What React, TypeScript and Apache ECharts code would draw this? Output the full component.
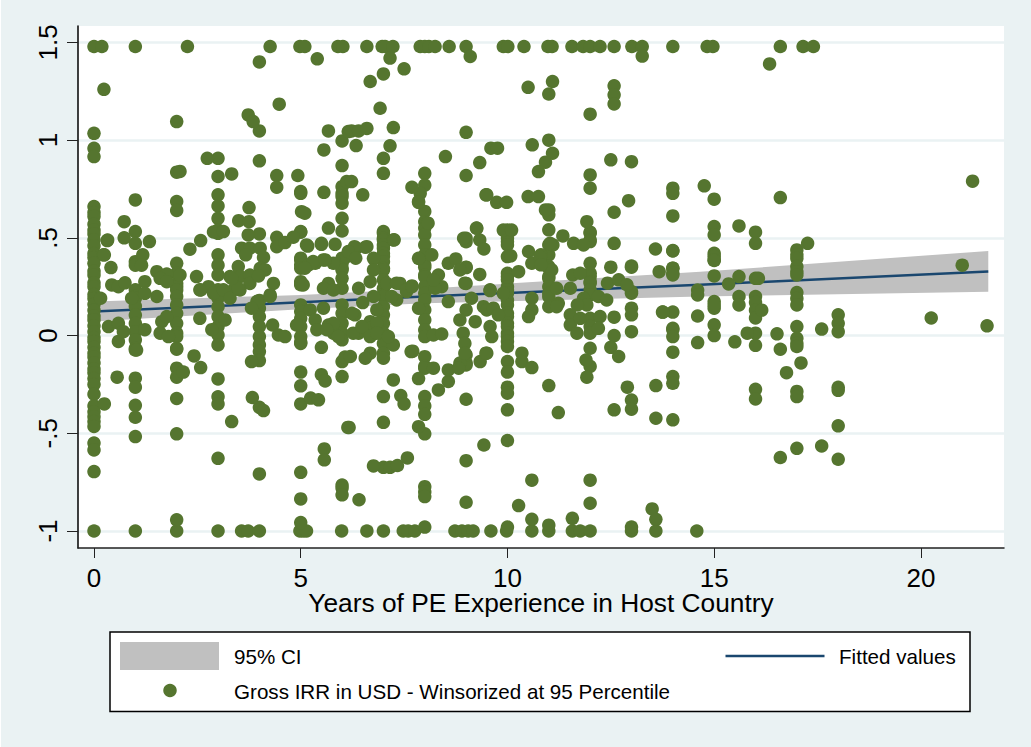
import React, { useEffect, useRef } from "react";
import * as echarts from "echarts";

const xTicks = [0, 5, 10, 15, 20];
const yTicks = [-1, -0.5, 0, 0.5, 1, 1.5];
const yTickLabels = ["-1", "-.5", "0", ".5", "1", "1.5"];

const fitX = [0, 5, 8, 14.66, 21.63];
const fitY = [0.123, 0.17, 0.2, 0.26, 0.3275];
const ciUpper = [0.174, 0.208, 0.24, 0.326, 0.433];
const ciLower = [0.072, 0.135, 0.165, 0.2, 0.224];

const capHighX = [0,0.19,1,2.26,4.26,4.98,5.1,5.9,6.02,6.6,6.97,7.04,7.23,7.89,8,8.1,8.25,8.59,9,9.9,10.01,10.4,10.98,11.08,11.56,11.83,12,12.24,12.58,13.01,13.26,14,14.83,14.97,16.6,17.15,17.4];
const capLowX = [0,1,2,3,3.57,3.73,4,4.98,5.06,5.14,5.99,6.6,7,7.48,7.6,7.76,8.73,8.9,9.05,9.17,9.6,9.98,10.59,11,11.57,11.76,12,13,13.59,14.58];

const col0 = [1.035,0.958,0.916,0.66,0.63,0.61,0.57,0.54,0.52,0.49,0.46,0.42,0.4,0.37,0.33,0.31,0.27,0.25,0.21,0.19,0.16,0.13,0.1,0.08,0.05,0.02,-0.01,-0.03,-0.06,-0.09,-0.11,-0.14,-0.17,-0.19,-0.22,-0.25,-0.3,-0.36,-0.39,-0.415,-0.44,-0.465,-0.55,-0.585,-0.696];
const col1 = [0.694,0.532,0.472,0.378,0.36,0.234,0.2,0.191,0.15,0.105,0.063,0.02,-0.022,-0.065,-0.074,-0.218,-0.264,-0.357,-0.418,-0.517];
const col2 = [1.095,0.836,0.686,0.64,0.37,0.319,0.267,0.25,0.233,0.2,0.157,0.114,0.063,0.012,-0.005,-0.065,-0.07,-0.167,-0.213,-0.322,-0.503,-0.943];
const col3 = [0.907,0.814,0.72,0.663,0.6,0.54,0.523,0.413,0.36,0.31,0.234,0.191,0.148,0.097,0.046,0.003,-0.048,-0.222,-0.313,-0.35,-0.628];
const col4 = [1.4,1.047,0.894,0.52,0.18,0.14,0.097,0.046,-0.005,-0.048,-0.082,-0.128,-0.367,-0.708];
const col5 = [0.737,0.728,0.532,0.529,0.396,0.387,0.362,0.345,0.276,0.267,0.26,0.157,0.123,0.088,0.046,-0.005,-0.04,-0.034,-0.187,-0.257,-0.35,-0.7,-0.836,-0.957];
const col6 = [0.996,0.87,0.762,0.728,0.711,0.677,0.6,0.535,0.396,0.37,0.345,0.336,0.293,0.242,0.157,0.114,0.063,0.012,-0.022,-0.133,-0.21,-0.765,-0.78,-0.815];
const col7 = [1.339,0.907,0.83,0.532,0.523,0.498,0.489,0.464,0.447,0.421,0.404,0.378,0.344,0.336,0.285,0.242,0.208,0.2,0.148,0.106,0.063,0.012,-0.04,-0.09,-0.116,-0.312,-0.444,-0.674];
const col8 = [0.83,0.77,0.635,0.583,0.55,0.515,0.464,0.413,0.362,0.35,0.31,0.3,0.25,0.216,0.182,0.131,0.08,0.029,-0.005,-0.108,-0.158,-0.167,-0.312,-0.36,-0.403,-0.503,-0.773,-0.8,-0.824,-0.98];
const col9 = [1.04,0.819,0.498,0.48,0.35,0.348,0.267,0.131,-0.15,-0.14,-0.099,-0.326,-0.64,-0.853];
const col10 = [0.54,0.498,0.481,0.464,0.404,0.319,0.302,0.285,0.25,0.233,0.217,0.182,0.157,0.114,0.097,0.063,0.046,0.012,-0.005,-0.03,-0.056,-0.133,-0.187,-0.264,-0.295,-0.38,-0.537,-0.98];
const col11 = [1.236,1.0,0.643,0.618,0.541,0.464,0.413,0.353,0.345,0.302,0.293,0.25,0.216,0.199,0.148,-0.256,-0.97];
const col12 = [1.133,0.822,0.754,0.529,0.524,0.49,0.481,0.37,0.319,0.302,0.276,0.268,0.234,0.208,0.088,0.046,0.012,-0.065,-0.158,-0.74,-0.858];
const col13 = [0.89,0.356,0.35,0.225,0.217,0.14,0.106,0.02,-0.33,-0.377,-0.98];
const col14 = [0.754,0.728,0.612,0.435,0.433,0.345,0.344,0.319,0.31,0.12,0.037,0.03,-0.005,-0.085,-0.21,-0.244,-0.431];
const col15 = [0.698,0.558,0.515,0.421,0.404,0.387,0.384,0.305,0.174,0.14,0.157,0.055,0];
const col16 = [0.529,0.472,0.293,0.2,0.17,0.13,0.09,0.012,-0.05,-0.275,-0.324];
const col17 = [0.438,0.413,0.395,0.353,0.327,0.31,0.22,0.19,0.157,0.046,-0.014,-0.04,-0.056,-0.286,-0.312,-0.577];
const col18 = [0.106,0.063,0.02,-0.265,-0.28,-0.462,-0.633];

const offA: number[][] = [[0.24,1.26],[0.16,0.191],[0.23,0.413],[0.32,0.486],[0.41,0.348],[0.33,0.489],[0.25,0.413],[0.73,0.583],[0.73,0.5],[1.34,0.481],[1.18,0.413],[1.15,0.36],[0.43,0.259],[0.59,0.25],[0.75,0.27],[0.35,0.046],[0.59,0.063],[0.59,-0.03],[0.71,0.02],[0.91,0.191],[1.03,-0.074],[1.23,0.03],[0.56,-0.213],[0.25,-0.35],[1.52,0.327],[1.76,0.315],[1.23,0.276],[1.6,0.293],[1.76,0.276],[2.08,0.31],[2.08,0.84],[1.64,0.071],[1.6,0.012],[1.76,0.097],[1.52,0.2],[1.23,0.216],[1.8,-0.005],[2.16,-0.187],[2.42,-0.104],[2.58,-0.164]];
const offB: number[][] = [[2.32,0.442],[2.58,0.486],[2.48,0.302],[2.58,0.233],[2.77,0.25],[2.89,0.53],[3.13,0.532],[2.74,0.907],[3.33,0.827],[3.5,0.588],[3.75,0.583],[3.75,0.655],[3.73,1.129],[3.85,1.095],[4.48,1.184],[3.73,0.515],[3.57,0.447],[3.77,0.447],[4.02,0.447],[3.67,0.413],[4.1,0.4],[3.49,0.353],[4.02,0.344],[4.14,0.336],[3.29,0.302],[3.53,0.302],[3.77,0.31],[3.77,0.267],[3.98,0.305],[4.34,0.267],[4.26,0.208],[3.37,0.233],[3.53,0.233],[3.94,0.174],[2.56,0.234],[2.56,0.088],[2.85,0.03],[3.17,0.08],[2.89,0.217],[3.13,0.234],[3.29,0.191],[3.49,0.242],[3.33,0.293],[3.81,0.14],[4.26,0.2],[4.32,0.054],[4.46,0.003],[4.62,-0.005],[4.9,0.054],[3.33,-0.44],[3.83,-0.317],[4.1,-0.384],[3.81,-0.133]];
const offC: number[][] = [[4.42,0.819],[4.42,0.759],[4.93,0.819],[5.02,0.634],[5.1,0.626],[4.42,0.503],[4.42,0.455],[4.62,0.476],[4.82,0.503],[5.17,0.458],[5.5,0.467],[5.83,0.467],[5.19,0.362],[5.35,0.37],[5.55,0.387],[5.79,0.37],[5.06,0.259],[5.67,0.267],[5.55,0.242],[5.79,0.233],[5.56,0.733],[5.56,0.95],[5.67,1.047],[5.4,1.416],[5.67,0.55],[5.23,0.131],[5.55,0.14],[5.35,0.08],[5.39,0.03],[5.67,0.054],[5.79,0.012],[5.5,-0.06],[5.24,-0.32],[5.43,-0.329],[5.5,-0.2],[5.59,-0.232],[5.57,-0.58],[5.57,-0.636],[5.3,0.379],[5.59,0.387],[5.1,0.345],[5.14,0.464],[5.5,0.472],[5.79,0.063],[5.63,0.03],[5.91,-0.005]];
const offD: number[][] = [[6.15,1.044],[6.11,0.788],[6.23,1.047],[6.4,1.047],[6.6,1.06],[6.34,0.972],[6.23,0.788],[6.5,0.72],[6.34,0.447],[6.56,0.452],[6.11,0.404],[6.76,0.395],[6.76,0.336],[6.68,0.276],[6.4,0.242],[6.5,0.169],[6.31,0.106],[6.68,0.071],[6.68,0.037],[6.4,0.012],[6.84,0.063],[6.76,0.2],[6.6,0.455],[6.3,0.455],[6.15,0.43],[6.33,0.396],[6.07,-0.11],[6.2,-0.107],[6.68,-0.09],[6.56,-0.116],[6.14,-0.47],[6.17,-0.47],[6.41,-0.84],[6.76,-0.667],[6.68,1.3],[6.92,1.163],[7.16,1.42],[7.5,1.365],[7.24,1.064],[7.16,0.971],[6.27,0.012],[6.48,0.046],[6.68,-0.005],[6.84,0.012],[6.24,0.114],[6.84,0.131]];
const offE: number[][] = [[7.24,0.489],[7.08,0.267],[7.4,0.267],[7.69,0.254],[7.56,0.225],[7.85,0.395],[7.26,0.49],[7.32,0.268],[7.56,0.234],[7.69,0.25],[7.32,0.182],[7.2,0.2],[7.85,0.14],[7.24,-0.048],[7.67,-0.082],[7.71,-0.08],[7.85,-0.22],[7.24,-0.227],[7.42,-0.307],[7.5,-0.35],[7.85,-0.466],[7.16,-0.674],[7.34,-0.665],[7.58,-0.626],[7.85,0.686],[7.89,0.728],[7.69,0.759],[7.85,0.682],[8.08,0.575],[8.17,0.413],[8.33,0.31],[8.41,0.25],[8.25,0.242],[8.21,0.003],[8.41,0.008],[8.21,-0.167],[8.33,-0.278],[8.57,-0.235],[7.12,-0.005],[8.21,0.285]];
const offF: number[][] = [[8.5,0.916],[8.57,0.37],[8.75,0.392],[8.85,0.336],[8.97,0.268],[8.94,0.498],[8.93,0.012],[8.97,-0.04],[8.57,0.174],[8.85,0.08],[9.13,0.191],[9.22,0.071],[8.57,-0.176],[8.85,-0.141],[8.82,-0.167],[8.97,-0.09],[9.1,1.428],[9.6,0.959],[9.76,0.959],[9.33,0.885],[9.48,0.72],[9.74,0.682],[9.98,0.682],[9.26,0.549],[9.33,0.489],[9.43,0.443],[9.33,0.313],[9.58,0.23],[9.9,0.216],[9.9,0.54],[9.42,0.148],[9.5,0.131],[9.66,0.14],[9.58,0.234],[9.78,0.106],[9.58,0.046],[9.62,-0.005],[9.34,-0.133],[9.5,-0.09],[9.48,-0.09],[9.43,-0.56],[9.5,0.72],[9.25,0.55]];
const offG: number[][] = [[10.5,1.27],[11.09,1.3],[10.6,0.976],[11.09,0.933],[10.92,0.887],[10.75,0.839],[10.5,0.711],[10.75,0.711],[10.92,0.643],[10.1,0.54],[10.08,0.408],[10.27,0.327],[10.51,0.43],[10.59,0.37],[10.81,0.413],[11.1,0.464],[11.34,0.51],[10.79,0.404],[11.03,0.472],[11.07,0.336],[10.81,0.362],[11.19,0.242],[10.59,0.191],[10.59,0.131],[10.51,0.097],[11.23,0.165],[11.19,0.148],[10.35,-0.09],[10.35,-0.133],[10.59,-0.164],[11.23,-0.394],[10.27,-0.87],[10.59,-0.74],[11.57,-0.935],[10.59,-0.94]];
const offH: number[][] = [[11.92,0.583],[11.6,0.472],[11.84,0.464],[11.52,0.242],[11.58,0.31],[11.76,0.319],[11.84,0.191],[11.92,0.157],[11.69,0.157],[12.2,0.2],[12.4,0.182],[12.5,0.35],[12.42,0.268],[12.69,0.285],[12.89,0.26],[12.58,0.094],[12.24,0.097],[11.52,0.106],[11.52,0.055],[11.76,0.088],[12.2,0.037],[11.68,0.012],[12.58,0],[12.58,1.278],[12.58,1.232],[12.58,1.185],[12.5,0.899],[12.93,0.69],[12.58,0.631],[12.58,0.472],[12.5,-0.06],[12.69,-0.107],[11.92,-0.213],[11.9,-0.125],[12.58,-0.38],[12.9,-0.264]];
const offI: number[][] = [[13.26,1.43],[13.67,0.327],[13.58,0.443],[13.75,0.12],[13.76,0.12],[13.59,-0.256],[13.59,-0.423],[13.5,-0.887],[13.59,-0.94],[14.6,0.233],[14.6,0.208],[14.6,0.1],[14.6,-0.036],[14.76,0.766],[15.6,0.561],[15.6,0.302],[15.6,0.2],[15.35,0.264],[15.5,-0.032],[15.8,0.012],[15.6,0.157],[16.34,1.39],[16.6,0.706],[16.07,0.293],[16.15,0.13],[16.52,0.009],[16.6,-0.07],[16.75,-0.19],[16.6,-0.624],[17.26,0.472],[17.1,-0.14],[17.6,0.033],[17.6,-0.565],[21.25,0.79],[21,0.36],[20.25,0.09],[21.6,0.05]];

const columnGroups = [col0,col1,col2,col3,col4,col5,col6,col7,col8,col9,col10,col11,col12,col13,col14,col15,col16,col17,col18];
const scatterData: number[][] = [
  ...capHighX.map((x) => [x, 1.479]),
  ...capLowX.map((x) => [x, -1]),
  ...columnGroups.flatMap((ys, x) => ys.map((y) => [x, y])),
  ...offA, ...offB, ...offC, ...offD, ...offE, ...offF, ...offG, ...offH, ...offI,
];

const FONT = "'Liberation Sans', Arial, sans-serif";
const GREEN = "#55752F";
const NAVY = "#1A476F";
const BAND = "#C0C0C0";
const BG = "#EAF2F3";

export default function App() {
  const ref = useRef<HTMLDivElement>(null);
  useEffect(() => {
    const chart = echarts.init(ref.current!, null, { renderer: "svg" });
    chart.setOption({
      animation: false,
      backgroundColor: BG,
      grid: { left: 78, top: 26, width: 926, height: 522, show: true, backgroundColor: "#fff", borderWidth: 0 },
      xAxis: {
        type: "value", min: -0.387, max: 22.01,
        name: "Years of PE Experience in Host Country",
        nameLocation: "middle", nameGap: 42, nameMoveOverlap: false,
        nameTextStyle: { fontFamily: FONT, fontSize: 26.3, color: "#000" },
        axisLine: { show: true, onZero: false, lineStyle: { color: "#222", width: 1.5 } },
        axisTick: { show: true, length: 10, customValues: xTicks, lineStyle: { color: "#222", width: 1 } },
        axisLabel: { customValues: xTicks, fontFamily: FONT, fontSize: 26, color: "#000", margin: 17, hideOverlap: false },
        splitLine: { show: false },
      },
      yAxis: {
        type: "value", min: -1.087, max: 1.584,
        axisLine: { show: true, onZero: false, lineStyle: { color: "#000", width: 1.5 } },
        axisTick: { show: true, length: 11, customValues: yTicks, lineStyle: { color: "#222", width: 1 } },
        axisLabel: {
          customValues: yTicks, rotate: 90, fontFamily: FONT, fontSize: 26, color: "#000", margin: 17,
          hideOverlap: false,
          formatter: (v: number) => yTickLabels[yTicks.indexOf(v)] ?? "",
        },
        splitLine: { show: true, lineStyle: { color: BG, width: 2.5 } },
      },
      series: [
        {
          type: "custom", name: "95% CI", z: 2, silent: true,
          data: fitX.map((x, i) => [x, ciLower[i], ciUpper[i]]),
          encode: { x: 0, y: [1, 2] },
          renderItem: (params: any, api: any) => {
            if (params.dataIndex !== 0) return null;
            const up = fitX.map((x, i) => api.coord([x, ciUpper[i]]));
            const lo = fitX.map((x, i) => api.coord([x, ciLower[i]])).reverse();
            return { type: "polygon", shape: { points: [...up, ...lo] }, style: { fill: BAND } };
          },
        },
        {
          type: "line", name: "Fitted values", z: 3, showSymbol: false, symbol: "none",
          data: fitX.map((x, i) => [x, fitY[i]]),
          lineStyle: { color: NAVY, width: 2.5 },
        },
        {
          type: "scatter", name: "Gross IRR in USD - Winsorized at 95 Percentile", z: 4,
          data: scatterData, symbol: "circle", symbolSize: 13.5,
          itemStyle: { color: GREEN, opacity: 1 },
        },
      ],
      graphic: [
        { type: "rect", shape: { x: 0, y: 0, width: 1, height: 747 }, style: { fill: "#fff" }, silent: true },
        { type: "rect", shape: { x: 110, y: 632, width: 860, height: 79.5 }, style: { fill: "#fff", stroke: "#000", lineWidth: 1.5 } },
        { type: "rect", shape: { x: 120, y: 642, width: 99, height: 28 }, style: { fill: BAND } },
        { type: "text", x: 234, y: 656, style: { text: "95% CI", font: `20.6px ${FONT}`, fill: "#000", textVerticalAlign: "middle" } },
        { type: "line", shape: { x1: 725.5, y1: 656, x2: 824.5, y2: 656 }, style: { stroke: NAVY, lineWidth: 2.5 } },
        { type: "text", x: 839, y: 656, style: { text: "Fitted values", font: `20.6px ${FONT}`, fill: "#000", textVerticalAlign: "middle" } },
        { type: "circle", shape: { cx: 170, cy: 690.5, r: 6.75 }, style: { fill: GREEN } },
        { type: "text", x: 234, y: 691, style: { text: "Gross IRR in USD - Winsorized at 95 Percentile", font: `20.6px ${FONT}`, fill: "#000", textVerticalAlign: "middle" } },
      ],
    });
    return () => chart.dispose();
  }, []);
  return <div ref={ref} style={{ position: "absolute", left: 0, top: 0, width: 1031, height: 747 }} />;
}
